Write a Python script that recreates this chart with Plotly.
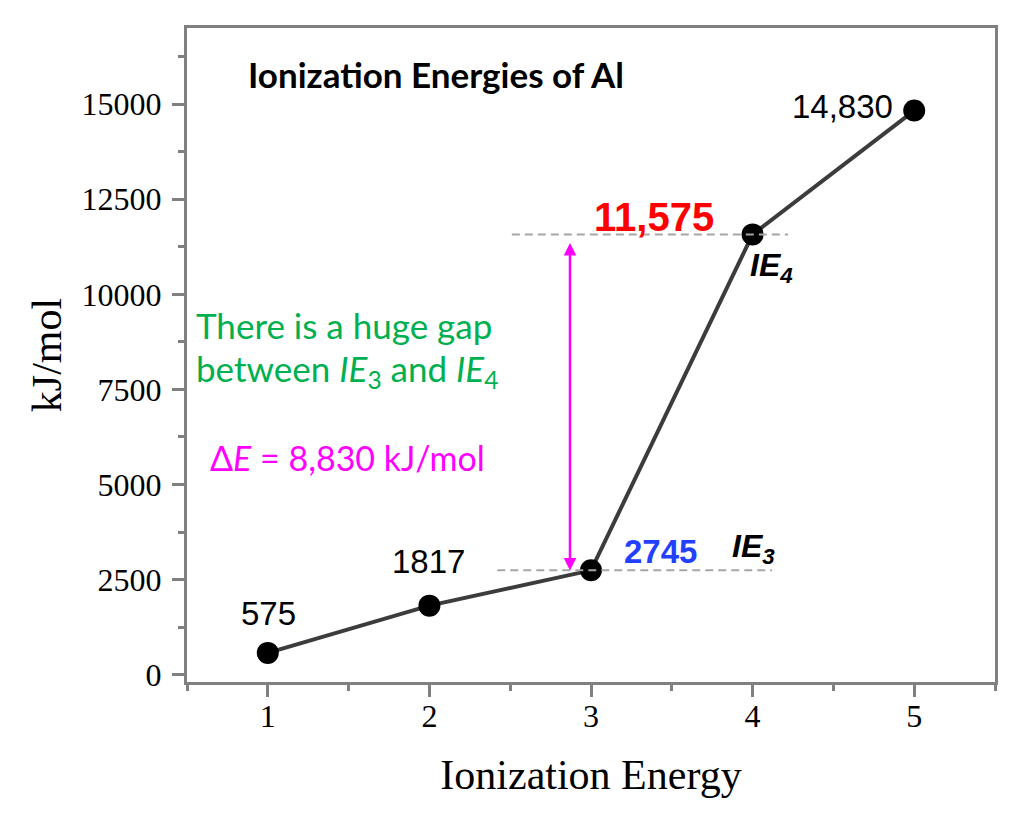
import plotly.graph_objects as go

# Data
ie_index = [1, 2, 3, 4, 5]
ie_values = [575, 1817, 2745, 11575, 14830]
point_labels = ["575", "1817", "2745", "11,575", "14,830"]
x_tickvals = [1, 2, 3, 4, 5]
y_tickvals = [0, 2500, 5000, 7500, 10000, 12500, 15000]
gap_low, gap_high = 2700, 11350  # arrow ends (kJ/mol)

fig = go.Figure()

fig.add_trace(go.Scatter(
    x=ie_index, y=ie_values, mode="lines+markers",
    line=dict(color="#3c3c3c", width=4),
    marker=dict(color="black", size=22),
    showlegend=False, hoverinfo="skip",
))

dash_style = dict(color="#a6a6a6", width=2, dash="8px,5px")
fig.add_shape(type="line", x0=2.51, x1=4.22, y0=ie_values[3], y1=ie_values[3],
              xref="x", yref="y", line=dash_style)
fig.add_shape(type="line", x0=2.42, x1=4.12, y0=ie_values[2], y1=ie_values[2],
              xref="x", yref="y", line=dash_style)

annotations = []
num_font = dict(family="Liberation Sans, Arial", size=33, color="black")
annotations.append(dict(x=1, y=ie_values[0], text=point_labels[0], showarrow=False,
                        xanchor="center", yanchor="middle", xshift=1, yshift=39, font=num_font))
annotations.append(dict(x=2, y=ie_values[1], text=point_labels[1], showarrow=False,
                        xanchor="center", yanchor="middle", xshift=-1, yshift=44, font=num_font))
annotations.append(dict(x=3, y=ie_values[2], text="<b>" + point_labels[2] + "</b>", showarrow=False,
                        xanchor="center", yanchor="middle", xshift=69, yshift=19,
                        font=dict(family="Liberation Sans, Arial", size=33, color="#2440ff")))
annotations.append(dict(x=4, y=ie_values[3], text="<b>" + point_labels[3] + "</b>", showarrow=False,
                        xanchor="center", yanchor="middle", xshift=-99, yshift=17,
                        font=dict(family="Liberation Sans, Arial", size=40, color="#ff0000")))
annotations.append(dict(x=5, y=ie_values[4], text=point_labels[4], showarrow=False,
                        xanchor="center", yanchor="middle", xshift=-72, yshift=4, font=num_font))

ie_font = dict(family="Liberation Sans, Arial", size=32, color="black")
annotations.append(dict(x=3, y=ie_values[2], text="<b><i>IE<sub>3</sub></i></b>", showarrow=False,
                        xanchor="left", yanchor="middle", xshift=139, yshift=22, font=ie_font))
annotations.append(dict(x=4, y=ie_values[3], text="<b><i>IE<sub>4</sub></i></b>", showarrow=False,
                        xanchor="left", yanchor="middle", xshift=-5, yshift=-33, font=ie_font))

annotations.append(dict(x=2.87, y=gap_high, ax=2.87, ay=gap_low, xref="x", yref="y",
                        axref="x", ayref="y", text="", showarrow=True,
                        arrowhead=2, startarrowhead=2, arrowside="end+start",
                        arrowsize=1, startarrowsize=1, arrowwidth=2.5, arrowcolor="#ff00ff"))

annotations.append(dict(x=0.073, y=0.93, xref="paper", yref="paper",
                        text="<b>Ionization Energies of Al</b>", showarrow=False,
                        xanchor="left", yanchor="middle",
                        font=dict(family="Lato", size=35, color="black")))
green = dict(family="Lato", size=35, color="#00b050")
annotations.append(dict(x=0.0087, y=0.546, xref="paper", yref="paper",
                        text="There is a huge gap", showarrow=False,
                        xanchor="left", yanchor="middle", font=green))
annotations.append(dict(x=0.0087, y=0.477, xref="paper", yref="paper",
                        text="between <i>IE</i><sub>3</sub> and <i>IE</i><sub>4</sub>", showarrow=False,
                        xanchor="left", yanchor="middle", font=green))
annotations.append(dict(x=0.026, y=0.343, xref="paper", yref="paper",
                        text="Δ<i>E</i> = 8,830 kJ/mol", showarrow=False,
                        xanchor="left", yanchor="middle",
                        font=dict(family="Lato", size=34, color="#ff00ff")))

serif = "Liberation Serif, Times New Roman"
axis_common = dict(
    showline=True, mirror=True, linecolor="#808080", linewidth=3,
    ticks="outside", ticklen=12, tickwidth=3, tickcolor="#808080",
    showgrid=False, zeroline=False,
    tickfont=dict(family=serif, size=32, color="black"),
)

fig.update_layout(
    width=1011, height=824,
    margin=dict(l=179, r=24, t=20, b=150),
    paper_bgcolor="white", plot_bgcolor="white",
    annotations=annotations,
    xaxis=dict(range=[0.5, 5.5], tickvals=x_tickvals, ticklabelstandoff=-8,
               minor=dict(dtick=0.5, tick0=0.5, ticks="outside", ticklen=6, tickwidth=3, tickcolor="#808080"),
               title=dict(text="Ionization Energy", standoff=27,
                          font=dict(family=serif, size=42, color="black")),
               **axis_common),
    yaxis=dict(range=[-190, 17000], tickvals=y_tickvals, tickformat="d",
               ticklabelstandoff=4,
               minor=dict(dtick=1250, tick0=0, ticks="outside", ticklen=6, tickwidth=3, tickcolor="#808080"),
               title=dict(text="kJ/mol", standoff=7,
                          font=dict(family=serif, size=42, color="black")),
               **axis_common),
)

fig.write_html("out.html")
